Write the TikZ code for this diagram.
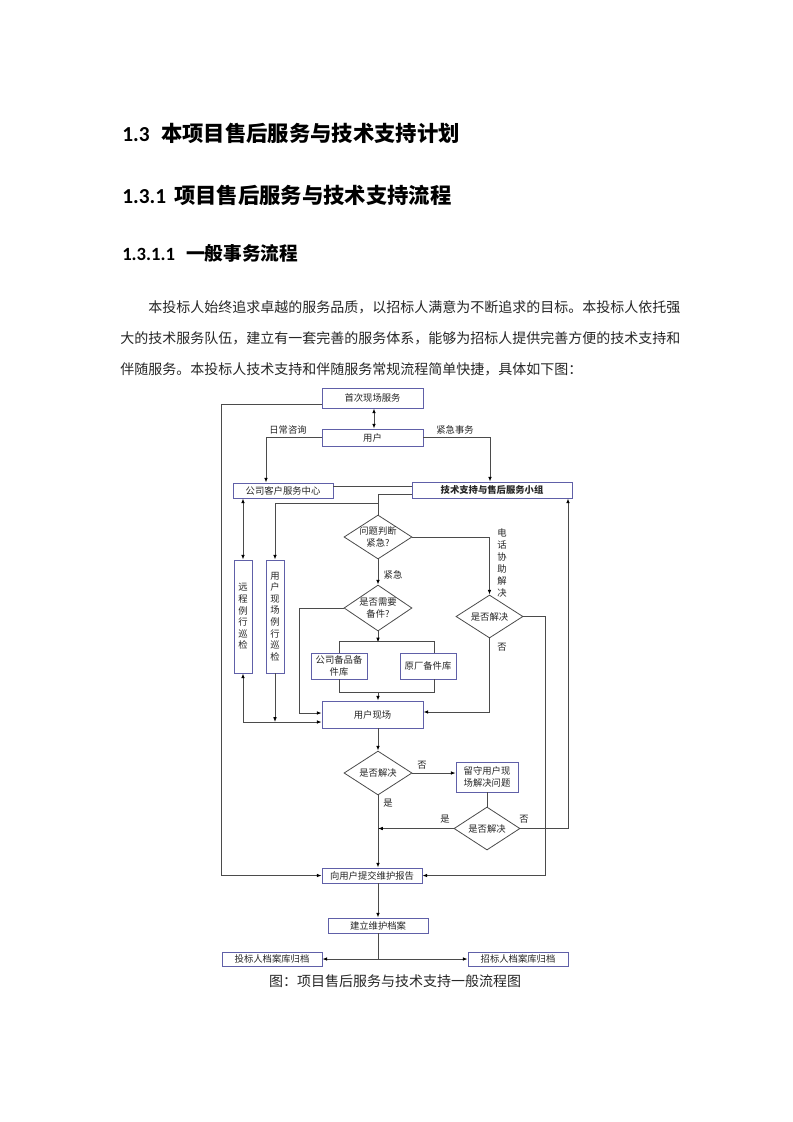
\documentclass[tikz,border=0pt]{standalone}
\usepackage{fontspec}
\setmainfont{Carlito}
\newfontfamily\cjk{Noto Sans CJK SC}
\usetikzlibrary{shapes.geometric,arrows.meta}
\XeTeXlinebreaklocale "zh"
\XeTeXlinebreakskip=0pt plus 1pt
\definecolor{boxblue}{RGB}{96,96,168}
\definecolor{linegray}{RGB}{75,75,75}
\newcommand{\px}{*0.75pt}

\tikzset{
	box/.style={draw=boxblue,line width=0.6pt,fill=white,inner sep=0pt,align=center,
		font=\cjk\fontsize{7}{9.5}\selectfont,text=black!85},
	vbox/.style={box,font=\cjk\fontsize{7}{8.7}\selectfont},
	dec/.style={diamond,draw=linegray,line width=0.6pt,inner sep=0pt},
	dtext/.style={align=center,inner sep=0pt,font=\cjk\fontsize{7}{9.5}\selectfont,text=black!85},
	lab/.style={inner sep=0pt,align=center,font=\cjk\fontsize{7}{9}\selectfont,text=black!85},
	body/.style={anchor=base west,inner sep=0pt,font=\cjk\fontsize{10.5}{12}\selectfont,text=black!85},
	conn/.style={draw=linegray,line width=0.6pt},
	arr/.style={conn,-{Latex[length=3.6pt,width=2.7pt,color=black]}},
	darr/.style={conn,{Latex[length=3.6pt,width=2.7pt,color=black]}-{Latex[length=3.6pt,width=2.7pt,color=black]}}
}

\begin{document}
\begin{tikzpicture}[x=0.75pt,y=-0.75pt]
	\fill[white] (0,0) rectangle (793,1122);
	\useasboundingbox (0,0) rectangle (793,1122);

	% headings and text
	\node[anchor=base west,inner sep=0pt,font=\fontsize{16}{19}\selectfont\bfseries] (h1n) at (122,141) {1.3};
	\node[anchor=base west,inner sep=0pt,font=\cjk\fontsize{16}{19}\selectfont\bfseries] (h1t) at (161,141) {本项目售后服务与技术支持计划};
	\node[anchor=base west,inner sep=0pt,font=\fontsize{16}{19}\selectfont\bfseries] (h2n) at (122,203) {1.3.1};
	\node[anchor=base west,inner sep=0pt,font=\cjk\fontsize{16}{19}\selectfont\bfseries] (h2t) at (174,203) {项目售后服务与技术支持流程};
	\node[anchor=base west,inner sep=0pt,font=\fontsize{14}{17}\selectfont\bfseries] (h3n) at (122,260) {1.3.1.1};
	\node[anchor=base west,inner sep=0pt,font=\cjk\fontsize{14}{17}\selectfont\bfseries] (h3t) at (186,260) {一般事务流程};
	\node[body] (para1) at (148,312)
		{\makebox[393pt][s]{本投标人始终追求卓越的服务品质，以招标人满意为不断追求的目标。本投标人依托强}};
	\node[body] (para2) at (120,343.5)
		{\makebox[414pt][s]{大的技术服务队伍，建立有一套完善的服务体系，能够为招标人提供完善方便的技术支持和}};
	\node[body] (para3) at (120,374)
		{伴随服务。本投标人技术支持和伴随服务常规流程简单快捷，具体如下图：};
	\node[inner sep=0pt,font=\cjk\fontsize{10.5}{12}\selectfont,text=black!85] (caption) at (395,981)
		{图：项目售后服务与技术支持一般流程图};

	% boxes
	\node[box,minimum width=101\px,minimum height=20\px] (shouci) at (372.5,398) {首次现场服务};
	\node[box,minimum width=101\px,minimum height=17\px] (yonghu) at (372.5,437.5) {用户};
	\node[box,minimum width=100\px,minimum height=15\px] (kefu) at (283,490.5) {公司客户服务中心};
	\node[box,minimum width=160\px,minimum height=16\px,font=\cjk\fontsize{7}{9}\selectfont\bfseries] (jishu) at (492,490) {技术支持与售后服务小组};
	\node[vbox,minimum width=18\px,minimum height=113\px] (yuancheng) at (243,616.5) {远\\程\\例\\行\\巡\\检};
	\node[vbox,minimum width=18\px,minimum height=113\px] (xunjian) at (275,616.5) {用\\户\\现\\场\\例\\行\\巡\\检};
	\node[box,minimum width=56\px,minimum height=26\px] (gongsi) at (339,666) {公司备品备\\件库};
	\node[box,minimum width=56\px,minimum height=26\px] (yuanchang) at (428,666) {原厂备件库};
	\node[box,minimum width=101\px,minimum height=27\px] (xcbox) at (372.5,714.5) {用户现场};
	\node[box,minimum width=62\px,minimum height=30\px] (liushou) at (487,777) {留守用户现\\场解决问题};
	\node[box,minimum width=100\px,minimum height=15\px] (baogao) at (372,875.5) {向用户提交维护报告};
	\node[box,minimum width=100\px,minimum height=15\px] (dangan) at (378,925.5) {建立维护档案};
	\node[box,minimum width=100\px,minimum height=14\px] (toubiao) at (272,959) {投标人档案库归档};
	\node[box,minimum width=100\px,minimum height=14\px] (zhaobiao) at (518,959) {招标人档案库归档};

	% decisions
	\node[dec,minimum width=68\px,minimum height=44\px] (wenti) at (378,537) {};
	\node[dtext] (wenti-t) at (wenti) {问题判断\\紧急?};
	\node[dec,minimum width=68\px,minimum height=46\px] (beijian) at (378,608) {};
	\node[dtext] (beijian-t) at (beijian) {是否需要\\备件?};
	\node[dec,minimum width=67\px,minimum height=43\px] (jiejue1) at (489.5,616.5) {};
	\node[dtext] (jiejue1-t) at (jiejue1) {是否解决};
	\node[dec,minimum width=68\px,minimum height=44\px] (jiejue2) at (378,773) {};
	\node[dtext] (jiejue2-t) at (jiejue2) {是否解决};
	\node[dec,minimum width=66\px,minimum height=43\px] (jiejue3) at (487,828.5) {};
	\node[dtext] (jiejue3-t) at (jiejue3) {是否解决};

	% labels
	\node[lab] (l-richang) at (288,430) {日常咨询};
	\node[lab] (l-jinji) at (455,430) {紧急事务};
	\node[lab] (l-jj) at (393,575) {紧急};
	\node[lab,font=\cjk\fontsize{7}{9}\selectfont] (l-dianhua) at (502,563) {电\\话\\协\\助\\解\\决};
	\node[lab] (l-fou1) at (502,647) {否};
	\node[lab] (l-fou2) at (422,765) {否};
	\node[lab] (l-shi1) at (388,803) {是};
	\node[lab] (l-shi2) at (445,819) {是};
	\node[lab] (l-fou3) at (524,819) {否};

	\coordinate (b1) at ([yshift=-7.5\px]xcbox.west);
	\coordinate (a1) at ([yshift=1.5\px]xcbox.west);
	\coordinate (t1) at (378,503);
	\coordinate (jc) at (378,692);

	% connectors
	\draw[arr] ([yshift=-6\px]shouci.west) -- ++(-100,0) |- (baogao.west);
	\draw[darr] ([xshift=1.5\px]shouci.south) -- ([xshift=1.5\px]yonghu.north);
	\draw[arr] (yonghu.west) -| ([xshift=-17\px]kefu.north);
	\draw[arr] (yonghu.east) -| ([xshift=-2\px]jishu.north);
	\draw[conn] ([yshift=4.5\px]kefu.east) -- ([yshift=4.5\px]kefu.east -| jishu.west);
	\draw[conn] ([yshift=-4\px]jishu.west) -| (wenti.north);
	\draw[arr] (t1) -| (xunjian.north);
	\draw[darr] (yuancheng.north |- kefu.south) -- (yuancheng.north);
	\draw[darr] (yuancheng.south) |- (b1);
	\draw[arr] (xunjian.south) -- (xunjian.south |- b1);
	\draw[arr] (wenti.south) -- (beijian.north);
	\draw[arr] (wenti.east) -| (jiejue1.north);
	\draw[arr] (beijian.west) -- ++(-44,0) |- (a1);
	\draw[arr] (beijian.south) -- ++(0,11);
	\draw[conn] (gongsi.north) -- ++(0,-11) -| ([xshift=6\px]yuanchang.north);
	\draw[conn] (gongsi.south) -- ++(0,13) -| ([xshift=6\px]yuanchang.south);
	\draw[arr] (jc) -- (jc |- xcbox.north);
	\draw[arr] (jiejue1.south) |- ([yshift=2.5\px]xcbox.east);
	\draw[arr] (jiejue1.east) -- ++(22,0) |- (baogao.east);
	\draw[arr] (xcbox.south -| wenti.south) -- (jiejue2.north);
	\draw[arr] (jiejue2.east) -- (jiejue2.east -| liushou.west);
	\draw[arr] (jiejue2.south) -- (jiejue2.south |- baogao.north);
	\draw[conn] (liushou.south) -- (jiejue3.north);
	\draw[arr] (jiejue3.west) -- (jiejue3.west -| jiejue2.south);
	\draw[arr] (jiejue3.east) -| ([xshift=76\px]jishu.south);
	\draw[arr] (baogao.south -| dangan.north) -- (dangan.north);
	\draw[arr] (dangan.south) |- (toubiao.east);
	\draw[arr] (dangan.south) |- (zhaobiao.west);
\end{tikzpicture}
\end{document}
